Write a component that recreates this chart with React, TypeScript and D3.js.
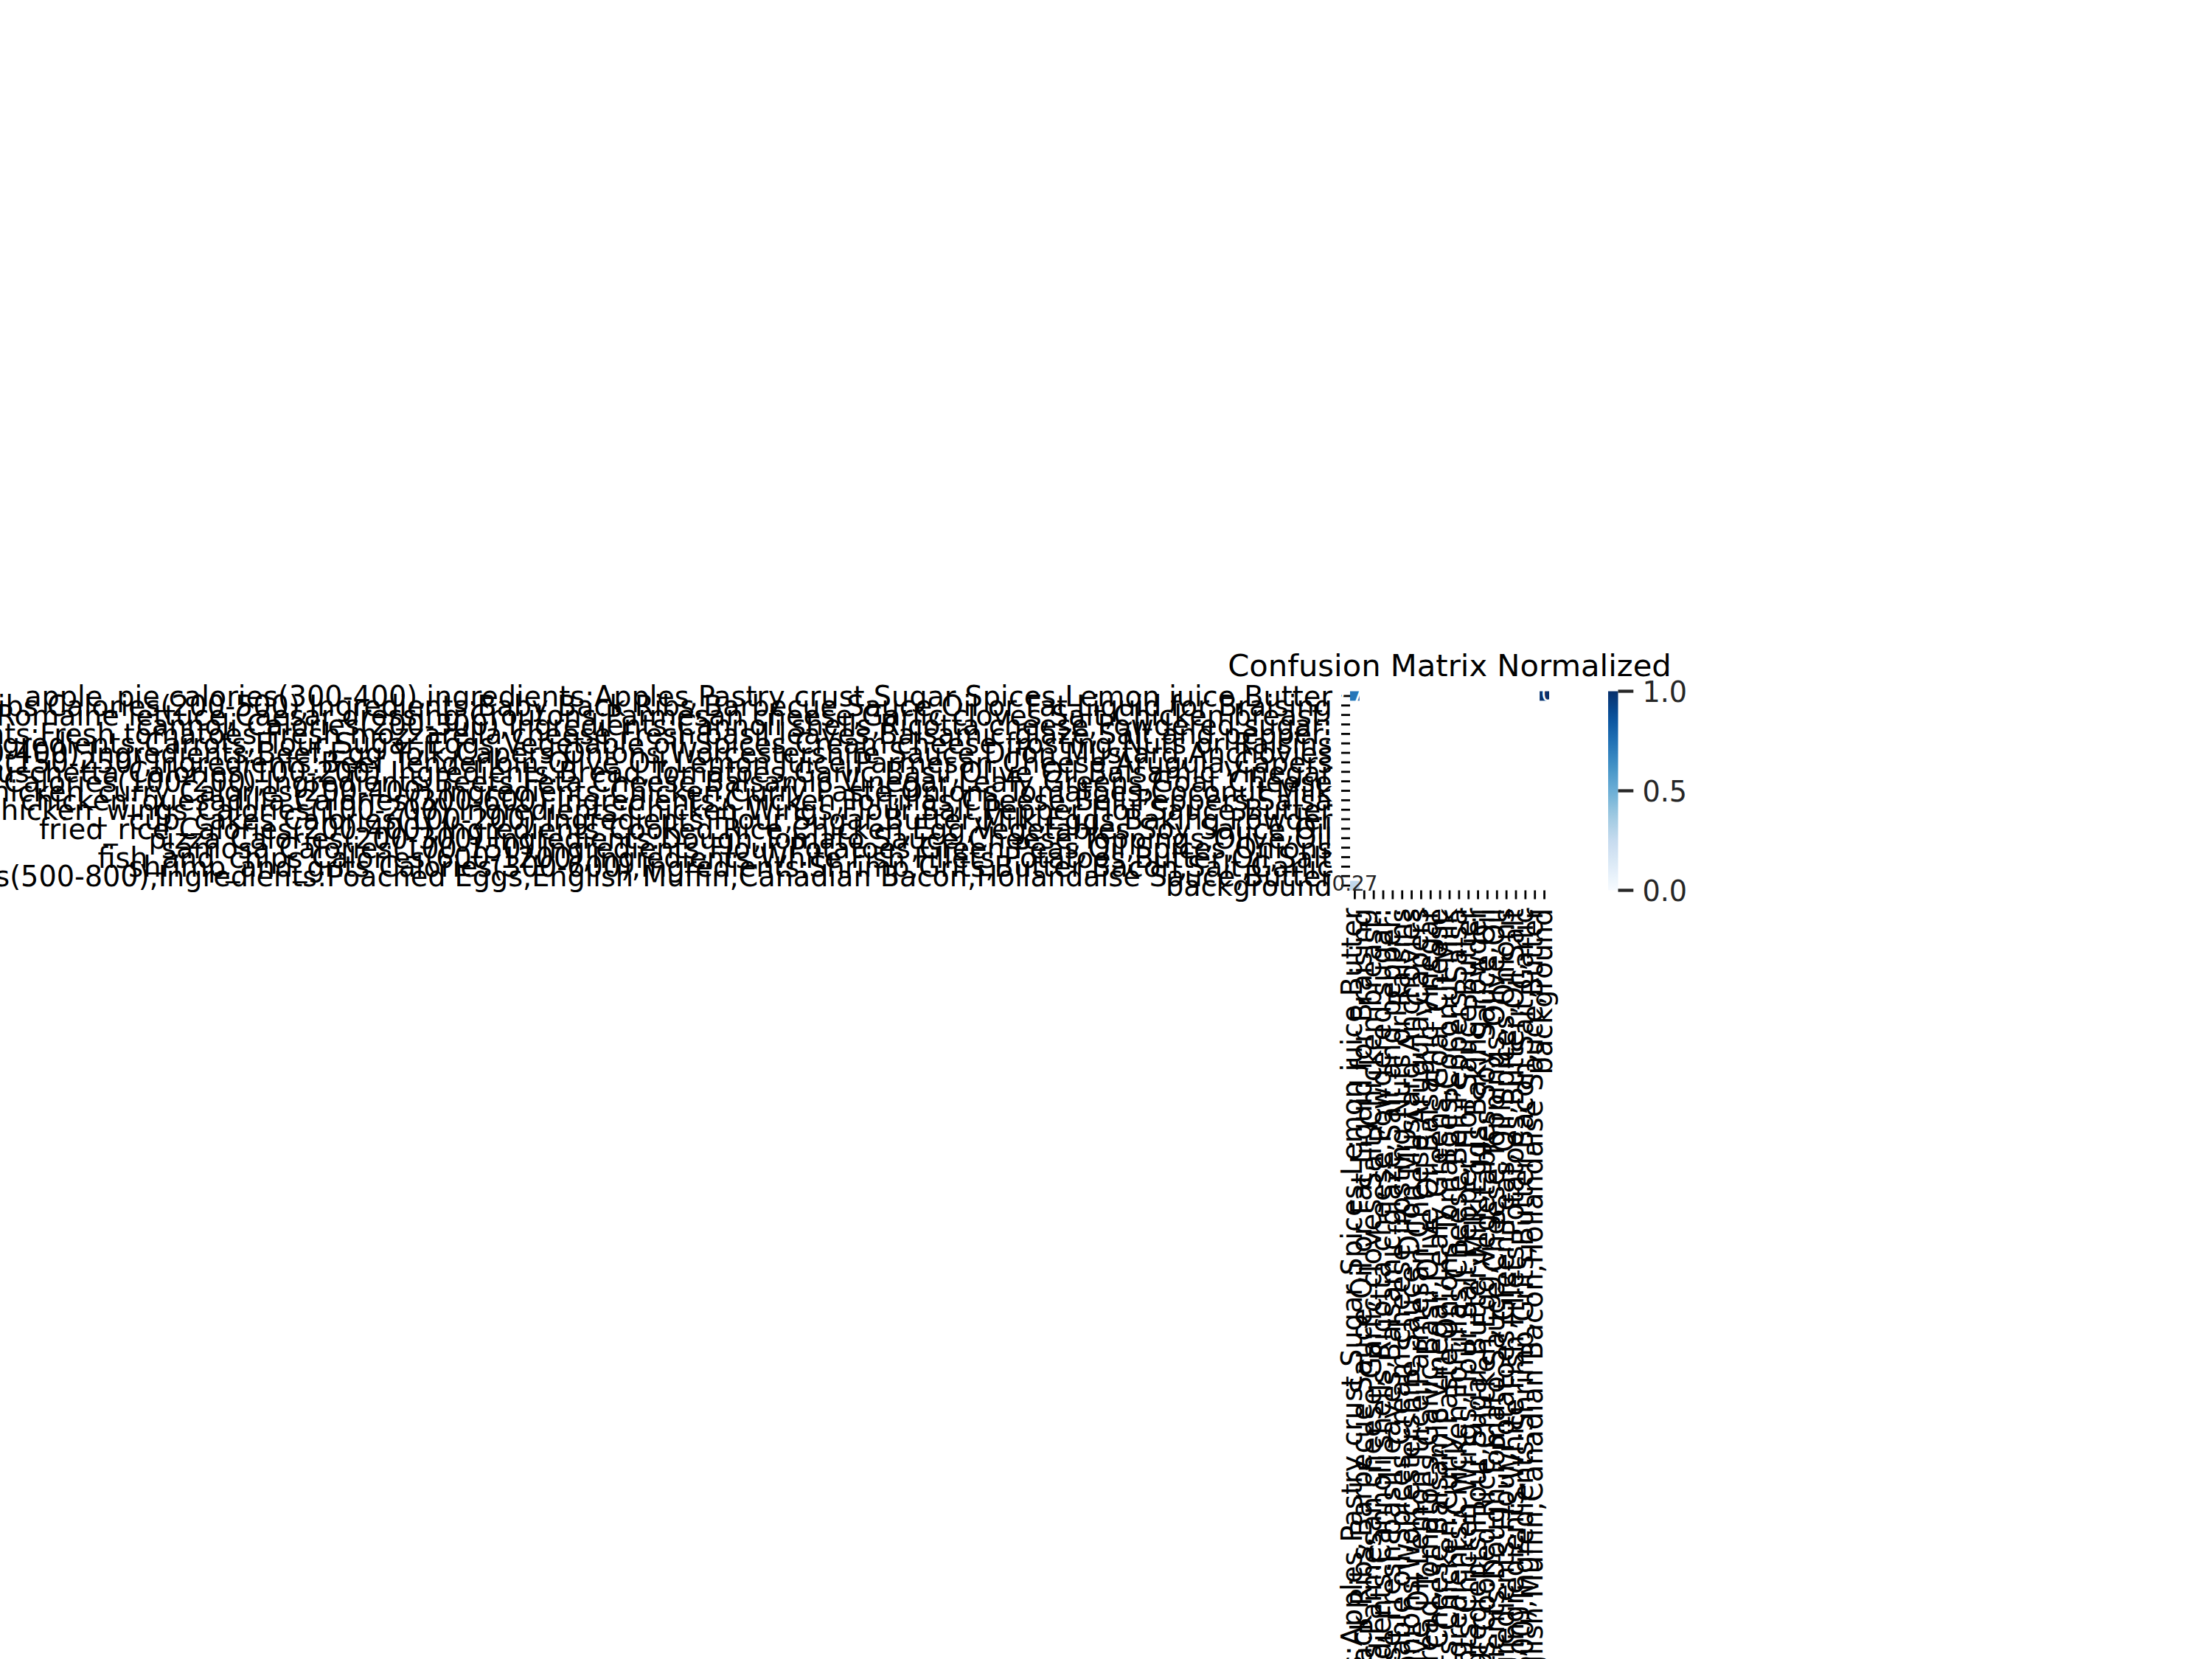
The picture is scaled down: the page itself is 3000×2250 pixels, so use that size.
import React from "react";
import * as d3 from "d3";

const TITLE = "Confusion Matrix Normalized";

const CLASS_LABELS = [
  "apple_pie calories(300-400),ingredients:Apples,Pastry crust,Sugar,Spices,Lemon juice,Butter",
  "baby_back_ribs Calories(200-500),Ingredients:Baby Back Ribs,Barbecue Sauce,Oil or Fat,Liquid for Braising",
  "caesar_salad Calories(150-350),Ingredients:Romaine lettuce,Caesar dressing,Croutons,Parmesan cheese,Garlic cloves,Salt,Chicken breast:",
  "cannoli Calories(200-300),Ingredients:Cannoli shells,Ricotta cheese,Powdered sugar:",
  "caprese_salad Calories(200-300),Ingredients:Fresh tomatoes,Fresh mozzarella cheese,Fresh basil leaves,Balsamic glaze,Salt and pepper:",
  "carrot_cake Calories(300-500),Ingredients:Carrots,Flour,Sugar,Eggs,Vegetable oil,Spices,Cream cheese frosting,Nuts or Raisins",
  "beef_tartare Calories(200-400),Ingredients:Beef,Egg Yolk,Capers,Onions,Worcestershire Sauce,Dijon Mustard,Anchovies",
  "beef_carpaccio Calories(150-250),Ingredients:Beef Tenderloin,Olive Oil,Lemon Juice,Parmesan Cheese,Arugula,Capers",
  "bruschetta Calories(100-200),Ingredients:Bread,Tomatoes,Garlic,Basil,Olive Oil,Balsamic Vinegar",
  "beet_salad Calories(100-200),Ingredients:Beets,Feta Cheese,Balsamic Vinegar,Leafy Greens,Goat Cheese",
  "chicken_curry Calories(200-400),Ingredients:Chicken,Curry Paste,Onions,Tomatoes,Coconut Milk",
  "chicken_quesadilla Calories(300-600),Ingredients:Chicken,Tortillas,Cheese,Bell Peppers,Salsa",
  "chicken_wings Calories(100-200),Ingredients:Chicken Wings,Flour,Salt,Pepper,Hot Sauce,Butter",
  "cup_cakes Calories(100-200),Ingredients:Flour,Sugar,Butter,Milk,Eggs,Baking Powder",
  "fried_rice Calories(200-400),Ingredients:Cooked Rice,Chicken,Egg,Vegetables,Soy Sauce,Oil",
  "pizza Calories(200-300),Ingredients:Dough,Tomato Sauce,Cheese,Toppings,Olive Oil",
  "samosa Calories(100-150),Ingredients:Flour,Potatoes,Green Peas,Oil,Spices,Onions",
  "fish_and_chips Calories(600-1200),Ingredients:White Fish Fillets,Potatoes,Butter,Oil,Salt",
  "shrimp_and_grits Calories(300-600),Ingredients:Shrimp,Grits,Butter,Bacon,Salt,Garlic",
  "eggs_benedict Calories(500-800),Ingredients:Poached Eggs,English Muffin,Canadian Bacon,Hollandaise Sauce,Butter",
  "background",
];

// non-empty cells of the normalized matrix (row = predicted, col = true)
const CELL_ROWS = [0, 20, 0];
const CELL_COLS = [0, 0, 20];
const CELL_VALUES = [0.73, 0.27, 1.0];

const COLORBAR_TICKS = [0, 0.5, 1];

const FONT = "DejaVu Sans, Liberation Sans, sans-serif";

export default function App() {
  const W = 3000;
  const H = 2250;
  const left = 1831;
  const top = 937.5;
  const size = 270;
  const n = CLASS_LABELS.length;
  const idx = d3.range(n);

  const x = d3.scaleBand<number>().domain(idx).range([left, left + size]);
  const y = d3.scaleBand<number>().domain(idx).range([top, top + size]);
  const bw = x.bandwidth();

  const blues = d3.schemeBlues[9];
  const color = d3
    .scaleLinear<string>()
    .domain(d3.range(9).map((i) => i / 8))
    .range(blues as string[])
    .interpolate(d3.interpolateRgb);

  const cbX = 2181;
  const cbW = 13.5;
  const cbY = d3.scaleLinear().domain([0, 1]).range([top + size, top]);

  const tickLen = 12;
  const tickPad = 12.15;
  const labelSize = 38.2;
  const annotSize = 27.8;
  const fmt = d3.format(".2f");
  const fmtCb = d3.format(".1f");

  const cells = CELL_VALUES.map((v, i) => ({ r: CELL_ROWS[i], c: CELL_COLS[i], v }));

  return (
    <svg
      width={W}
      height={H}
      viewBox={`0 0 ${W} ${H}`}
      style={{ position: "absolute", left: 0, top: 0, background: "#fff" }}
      fontFamily={FONT}
    >
      <defs>
        <linearGradient id="cbGrad" x1="0" y1="1" x2="0" y2="0">
          {d3.range(0, 1.0001, 0.05).map((t) => (
            <stop key={t} offset={t} stopColor={color(Math.min(1, t))} />
          ))}
        </linearGradient>
      </defs>
      <rect x={0} y={0} width={W} height={H} fill="#ffffff" />

      {/* title */}
      <text x={left + size / 2} y={916.5} textAnchor="middle" fontSize={41.7} fill="#000">
        {TITLE}
      </text>

      {/* cells */}
      {cells.map((d, i) => (
        <rect key={i} x={x(d.c)} y={y(d.r)} width={bw} height={bw} fill={color(d.v)} />
      ))}

      {/* y ticks + labels */}
      {idx.map((i) => {
        const cy = (y(i) as number) + bw / 2;
        return (
          <g key={"y" + i}>
            <line x1={left - tickLen} x2={left} y1={cy} y2={cy} stroke="#000" strokeWidth={2.8} />
            <text
              x={left - tickLen - tickPad}
              y={cy + 0.37 * labelSize}
              textAnchor="end"
              fontSize={labelSize}
              fill="#000"
            >
              {CLASS_LABELS[i]}
            </text>
          </g>
        );
      })}

      {/* x ticks + labels */}
      {idx.map((i) => {
        const cx = (x(i) as number) + bw / 2;
        const by = top + size;
        return (
          <g key={"x" + i}>
            <line x1={cx} x2={cx} y1={by} y2={by + tickLen} stroke="#000" strokeWidth={2.8} />
            <text
              transform={`translate(${cx},${by + tickLen + tickPad}) rotate(-90)`}
              y={0.262 * labelSize}
              textAnchor="end"
              fontSize={labelSize}
              fill="#000"
            >
              {CLASS_LABELS[i]}
            </text>
          </g>
        );
      })}

      {/* colorbar */}
      <rect x={cbX} y={top} width={cbW} height={size} fill="url(#cbGrad)" />
      {COLORBAR_TICKS.map((t) => (
        <g key={"cb" + t}>
          <line
            x1={cbX + cbW}
            x2={cbX + cbW + 20.8}
            y1={cbY(t)}
            y2={cbY(t)}
            stroke="#262626"
            strokeWidth={4.3}
          />
          <text
            x={cbX + cbW + 20.8 + 12.15}
            y={cbY(t) + 0.37 * labelSize}
            fontSize={labelSize}
            fill="#262626"
          >
            {fmtCb(t)}
          </text>
        </g>
      ))}

      {/* annotations */}
      {cells.map((d, i) => (
        <text
          key={"a" + i}
          x={(x(d.c) as number) + bw / 2}
          y={(y(d.r) as number) + bw / 2 + 0.262 * annotSize}
          textAnchor="middle"
          fontSize={annotSize}
          fill={d.v > 0.5 ? "#ffffff" : "#262626"}
        >
          {fmt(d.v)}
        </text>
      ))}
    </svg>
  );
}
